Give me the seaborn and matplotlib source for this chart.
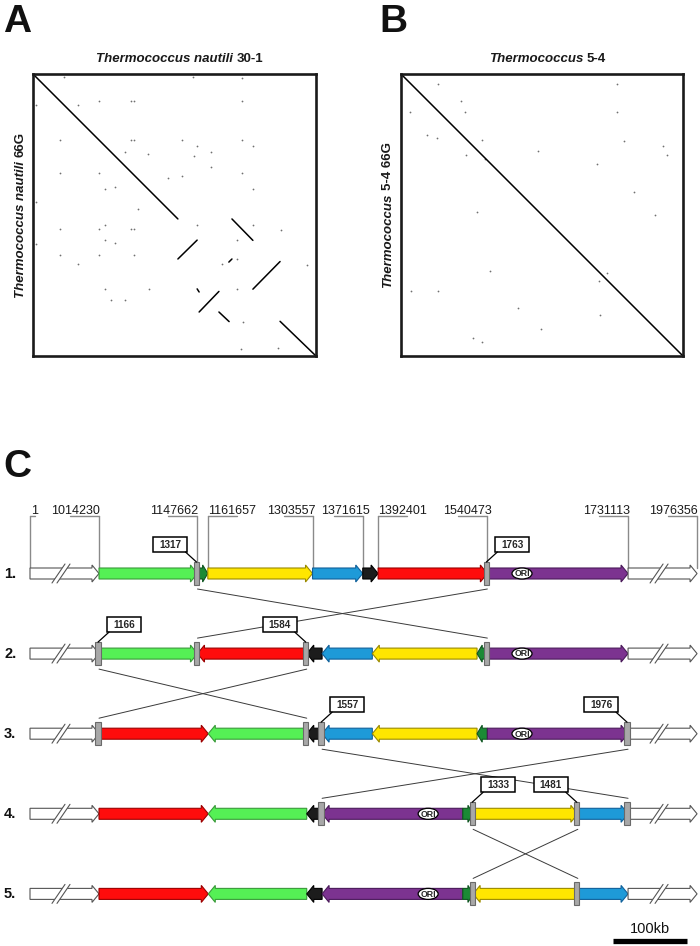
import matplotlib
matplotlib.use("Agg")
import matplotlib.pyplot as plt
import numpy as np
import pandas as pd
import seaborn as sns
from matplotlib.patches import Polygon, Rectangle, Ellipse

# ------------------------------------------------------------------ data
# Panel A: dot plot T. nautili 30-1 (x) vs T. nautili 66G (y), fraction of genome
A_seg_x0 = [0.000, 0.703, 0.512, 0.692, 0.777, 0.580, 0.587, 0.657, 0.873]
A_seg_x1 = [0.512, 0.777, 0.580, 0.703, 0.873, 0.587, 0.657, 0.693, 1.000]
A_seg_y0 = [0.000, 0.514, 0.656, 0.667, 0.763, 0.762, 0.844, 0.844, 0.877]
A_seg_y1 = [0.514, 0.590, 0.589, 0.656, 0.665, 0.773, 0.771, 0.878, 1.000]
A_dot_x = [0.233, 0.345, 0.357, 0.737, 0.095, 0.345, 0.357, 0.525, 0.737, 0.778,
           0.581, 0.628, 0.570, 0.325, 0.405, 0.628, 0.095, 0.233, 0.737, 0.525,
           0.476, 0.160, 0.009, 0.111, 0.567, 0.737, 0.254, 0.290, 0.778, 0.009,
           0.370, 0.095, 0.233, 0.254, 0.345, 0.357, 0.581, 0.778, 0.876, 0.254,
           0.290, 0.009, 0.722, 0.095, 0.233, 0.357, 0.160, 0.667, 0.722, 0.969,
           0.254, 0.411, 0.722, 0.274, 0.325, 0.743, 0.734, 0.867]
A_dot_y = [0.095, 0.095, 0.095, 0.095, 0.234, 0.234, 0.234, 0.234, 0.234, 0.254,
           0.254, 0.278, 0.290, 0.278, 0.284, 0.329, 0.350, 0.350, 0.350, 0.362,
           0.370, 0.111, 0.111, 0.009, 0.009, 0.014, 0.409, 0.402, 0.409, 0.455,
           0.479, 0.551, 0.551, 0.535, 0.551, 0.551, 0.535, 0.535, 0.553, 0.589,
           0.598, 0.603, 0.589, 0.642, 0.642, 0.642, 0.675, 0.675, 0.657, 0.677,
           0.763, 0.763, 0.763, 0.801, 0.801, 0.878, 0.975, 0.973]

# Panel B: dot plot Thermococcus 5-4 (x) vs Thermococcus 5-4 66G (y)
B_seg_x0 = [0.0]
B_seg_x1 = [1.0]
B_seg_y0 = [0.0]
B_seg_y1 = [1.0]
B_dot_x = [0.130, 0.767, 0.213, 0.033, 0.227, 0.767, 0.093, 0.129, 0.287, 0.791,
           0.930, 0.944, 0.487, 0.230, 0.695, 0.298, 0.827, 0.271, 0.901, 0.316,
           0.729, 0.703, 0.034, 0.130, 0.414, 0.707, 0.498, 0.254, 0.287]
B_dot_y = [0.037, 0.037, 0.095, 0.134, 0.134, 0.134, 0.216, 0.228, 0.234, 0.238,
           0.255, 0.288, 0.273, 0.288, 0.318, 0.301, 0.417, 0.488, 0.500, 0.697,
           0.707, 0.733, 0.768, 0.768, 0.831, 0.853, 0.904, 0.935, 0.949]

# Panel C: genome blocks (bp)
C_block_names = ["green", "dkgreen", "yellow", "blue", "black", "red", "purple"]
C_block_start = [1014230, 1147662, 1161657, 1303557, 1371615, 1392401, 1540473]
C_block_end = [1147662, 1161657, 1303557, 1371615, 1392401, 1540473, 1731113]
C_coord_labels = ["1", "1014230", "1147662", "1161657", "1303557", "1371615",
                  "1392401", "1540473", "1731113", "1976356"]
C_ori = 1587400
C_row_names = ["1.", "2.", "3.", "4.", "5."]
C_row_blocks = [
    ["green", "dkgreen", "yellow", "blue", "black", "red", "purple"],
    ["green", "red", "black", "blue", "yellow", "dkgreen", "purple"],
    ["red", "green", "black", "blue", "yellow", "dkgreen", "purple"],
    ["red", "green", "black", "purple", "dkgreen", "yellow", "blue"],
    ["red", "green", "black", "purple", "dkgreen", "yellow", "blue"],
]
C_row_strand = [
    [1, 1, 1, 1, 1, 1, 1],
    [1, -1, -1, -1, -1, -1, 1],
    [1, -1, -1, -1, -1, -1, 1],
    [1, -1, -1, -1, 1, 1, 1],
    [1, -1, -1, -1, 1, -1, 1],
]
C_row_breaks = [[1, 6], [0, 1, 2, 6], [0, 2, 3, 7], [3, 5, 6, 7], [5, 6]]
C_callout_row = [0, 0, 1, 1, 2, 2, 3, 3]
C_callout_k = [1, 6, 0, 2, 3, 7, 5, 6]
C_callout_text = ["1317", "1763", "1166", "1584", "1557", "1976", "1333", "1481"]
C_callout_side = [-1, 1, 1, -1, 1, -1, 1, -1]
C_inversions = [(1, 6), (0, 2), (3, 7), (5, 6)]
C_scale_kb = 100

# ------------------------------------------------------------------ style
sns.set_style("white")
plt.rcParams['font.family'] = ['Liberation Sans', 'DejaVu Sans']

FC = {"green": "#55f055", "dkgreen": "#1b8a35", "yellow": "#ffe600",
      "blue": "#1e9ad8", "black": "#1c1c1c", "red": "#ff0c0c", "purple": "#7c3390"}
EC = {"green": "#3a9a3a", "dkgreen": "#0e5520", "yellow": "#9a8a00",
      "blue": "#10609a", "black": "#000000", "red": "#9a0000", "purple": "#4a1a5a"}

W, H = 700, 946
fig = plt.figure(figsize=(W / 100, H / 100), dpi=100)
renderer = fig.canvas.get_renderer()


def fx(x):
    return x / W


def fy(y):
    return 1 - y / H


# ------------------------------------------------------------------ panel C (full-figure axes)
S = 0.738  # px per kb


def px(n):
    return n / S


FLANK = px(69)
x_first = C_block_start[0] / 1000
XL0 = x_first - FLANK - px(30)

axC = fig.add_axes([0, 0, 1, 1])
axC.set_xlim(XL0, XL0 + px(W))
axC.set_ylim(H, 0)
axC.axis('off')


def xpx(p):
    return XL0 + px(p)


ROW_Y0, ROW_DY = 573.5, 80.1
BODY, HEAD = 5.5, 8.5


def draw_arrow(ax, x0, x1, yc, strand, fc, ec, lw=0.8, z=3):
    L = x1 - x0
    hl = min(px(7), 0.5 * L)
    b, h = BODY, HEAD
    if strand > 0:
        pts = [(x0, yc - b), (x1 - hl, yc - b), (x1 - hl, yc - h), (x1, yc),
               (x1 - hl, yc + h), (x1 - hl, yc + b), (x0, yc + b)]
    else:
        pts = [(x1, yc - b), (x0 + hl, yc - b), (x0 + hl, yc - h), (x0, yc),
               (x0 + hl, yc + h), (x0 + hl, yc + b), (x1, yc + b)]
    ax.add_patch(Polygon(pts, closed=True, fc=fc, ec=ec, lw=lw, zorder=z,
                         joinstyle='miter'))


def draw_slash(ax, x_start, yc):
    cx = x_start + px(31)
    poly = [(cx - px(9), yc + 9.5), (cx + px(4), yc - 9.5),
            (cx + px(9), yc - 9.5), (cx - px(4), yc + 9.5)]
    ax.add_patch(Polygon(poly, closed=True, fc='white', ec='none', zorder=4))
    for off in (-2.5, 2.5):
        ax.plot([cx - px(6.5) + px(off), cx + px(6.5) + px(off)],
                [yc + 9.5, yc - 9.5], color='#555555', lw=0.8, zorder=5)


length = {n: (e - s) / 1000 for n, s, e in zip(C_block_names, C_block_start, C_block_end)}
ori_off = (C_ori - C_block_start[C_block_names.index("purple")]) / 1000

row_bounds = []
for r, (blocks, strands) in enumerate(zip(C_row_blocks, C_row_strand)):
    yc = ROW_Y0 + r * ROW_DY
    cur = x_first
    bx = [cur]
    draw_arrow(axC, cur - FLANK, cur, yc, 1, 'white', '#555555', lw=0.8)
    draw_slash(axC, cur - FLANK, yc)
    for name, st in zip(blocks, strands):
        L = length[name]
        draw_arrow(axC, cur, cur + L, yc, st, FC[name], EC[name])
        if name == "purple":
            ox = cur + ori_off if st > 0 else cur + L - ori_off
            axC.add_patch(Ellipse((ox, yc), px(20), 11, fc='white', ec='black',
                                  lw=0.9, zorder=6))
            axC.text(ox, yc + 0.3, "ORI", ha='center', va='center', fontsize=6.3,
                     fontweight='bold', zorder=7)
        cur += L
        bx.append(cur)
    draw_arrow(axC, cur, cur + FLANK, yc, 1, 'white', '#555555', lw=0.8)
    draw_slash(axC, cur, yc)
    row_bounds.append(bx)
    for k in C_row_breaks[r]:
        axC.add_patch(Rectangle((bx[k] - px(3.6), yc - 11.5), px(5.2), 23,
                                fc='#a8a8a8', ec='#6a6a6a', lw=0.8, zorder=8))
    axC.text(xpx(4), yc + 0.5, C_row_names[r], ha='left', va='center',
             fontsize=10.5, fontweight='bold', color='#111111')

# inversion lines
for r, (a, b) in enumerate(C_inversions):
    y1 = ROW_Y0 + r * ROW_DY + 15.5
    y2 = ROW_Y0 + (r + 1) * ROW_DY - 15.5
    for p, q in ((a, b), (b, a)):
        axC.plot([row_bounds[r][p], row_bounds[r + 1][q]], [y1, y2],
                 color='#3a3a3a', lw=0.7, zorder=2)

# callouts
BW, BH = 34, 15
for r, k, t, sd in zip(C_callout_row, C_callout_k, C_callout_text, C_callout_side):
    yc = ROW_Y0 + r * ROW_DY
    bxk = row_bounds[r][k] - px(1)
    cx = bxk + px(26) * sd
    cy = yc - 29
    axC.add_patch(Rectangle((cx - px(BW / 2), cy - BH / 2), px(BW), BH,
                            fc='white', ec='black', lw=1.1, zorder=9))
    axC.text(cx, cy + 0.5, t, ha='center', va='center', fontsize=7.2,
             fontweight='bold', zorder=10)
    ex = cx - sd * px(BW / 2 - 2)
    axC.plot([ex, bxk], [cy + BH / 2, yc - 11.5], color='black', lw=0.9, zorder=9)

# coordinate labels over row 1
lab_x = [x_first - FLANK] + list(row_bounds[0]) + [row_bounds[0][-1] + FLANK]
lab_ha = ['left', 'right', 'right', 'left', 'right', 'right', 'left', 'right', 'right', 'right']
lab_dx = [1, 1, 1, 0, 3, 7, 0, 4, 2, 0.5]
yc1 = ROW_Y0
for i, (lx, lt, ha, dx) in enumerate(zip(lab_x, C_coord_labels, lab_ha, lab_dx)):
    axC.text(lx + px(dx), 514, lt, ha=ha, va='baseline', fontsize=9, color='#1a1a1a')
    ul = 5 if i == 0 else 29
    if ha == 'right':
        axC.plot([lx - px(ul), lx], [516, 516], color='#8a8a8a', lw=1.0)
    else:
        axC.plot([lx, lx + px(ul)], [516, 516], color='#8a8a8a', lw=1.0)
    bottom = yc1 - 11.5 if (1 <= i <= 8 and (i - 1) in C_row_breaks[0]) else yc1 - 6
    axC.plot([lx, lx], [516, bottom], color='#8a8a8a', lw=1.0, zorder=1)

# scale bar
sb_end = xpx(687)
axC.plot([sb_end - C_scale_kb, sb_end], [940.5, 940.5], color='black', lw=3.8,
         solid_capstyle='butt')
axC.text(sb_end - C_scale_kb / 2, 933, f"{C_scale_kb}kb", ha='center', va='baseline',
         fontsize=10.5, color='#111111')


# ------------------------------------------------------------------ dot plots
def seg_df(x0, x1, y0, y1):
    rows = []
    for i, (a, b, c, d) in enumerate(zip(x0, x1, y0, y1)):
        rows.append((i, a, c))
        rows.append((i, b, d))
    return pd.DataFrame(rows, columns=['seg', 'x', 'y'])


def dotplot(rect, sx0, sx1, sy0, sy1, dx, dy):
    ax = fig.add_axes(rect)
    sns.scatterplot(x=dx, y=dy, s=1.6, color='#707070', linewidth=0, ax=ax)
    sns.lineplot(data=seg_df(sx0, sx1, sy0, sy1), x='x', y='y', units='seg',
                 estimator=None, sort=False, color='black', lw=1.1, ax=ax,
                 legend=False)
    ax.set(xlim=(0, 1), ylim=(1, 0), xticks=[], yticks=[], xlabel='', ylabel='')
    for s in ax.spines.values():
        s.set_visible(True)
        s.set_linewidth(1.9)
        s.set_color('#1a1a1a')
    ax.set_facecolor('white')
    return ax


dotplot([fx(33), fy(356), 283 / W, 282 / H], A_seg_x0, A_seg_x1, A_seg_y0, A_seg_y1,
        A_dot_x, A_dot_y)
dotplot([fx(401), fy(356), 282 / W, 282 / H], B_seg_x0, B_seg_x1, B_seg_y0, B_seg_y1,
        B_dot_x, B_dot_y)


# ------------------------------------------------------------------ texts
def text_width(t, style, fs):
    tt = fig.text(0, 0, t, fontsize=fs, fontweight='bold', fontstyle=style)
    w = tt.get_window_extent(renderer).width
    tt.remove()
    return w


def mixed(x, y, parts, fs=9.5, rot=False, gap=3.6):
    widths = [text_width(t, st, fs) for t, st in parts]
    total = sum(widths) + gap * (len(parts) - 1)
    pos = (x - total / 2) if not rot else (y + total / 2)
    for (t, st), w in zip(parts, widths):
        if not rot:
            fig.text(fx(pos), fy(y), t, fontsize=fs, fontweight='bold', fontstyle=st,
                     ha='left', va='center', color='#1a1a1a')
            pos += w + gap
        else:
            fig.text(fx(x), fy(pos), t, fontsize=fs, fontweight='bold', fontstyle=st,
                     ha='left', va='center', rotation=90, rotation_mode='anchor',
                     color='#1a1a1a')
            pos -= w + gap


mixed(180, 58.5, [("Thermococcus nautili", 'italic'), ("30-1", 'normal')])
mixed(547.5, 58.5, [("Thermococcus", 'italic'), ("5-4", 'normal')])
mixed(20.5, 215, [("Thermococcus nautili", 'italic'), ("66G", 'normal')], rot=True)
mixed(388, 215, [("Thermococcus", 'italic'), ("5-4 66G", 'normal')], rot=True)

for lt, x, y in (("A", 3, 32), ("B", 379, 32), ("C", 3, 477)):
    fig.text(fx(x), fy(y), lt, fontsize=28, fontweight='bold', ha='left',
             va='baseline', color='#111111')

fig.savefig("out.png", dpi=100)
